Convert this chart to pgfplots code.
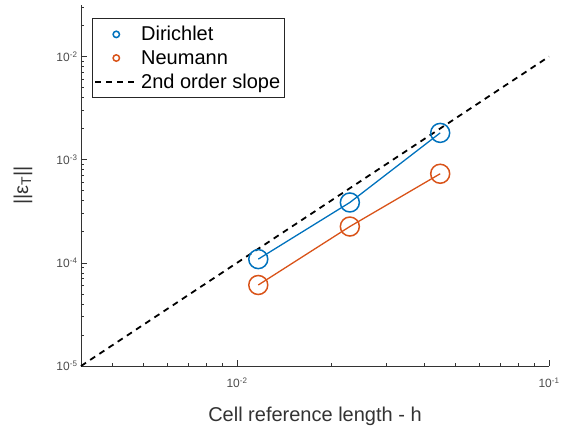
\documentclass[border=0pt]{standalone}
\usepackage{fontspec}
\setmainfont{Liberation Sans}
\usepackage{pgfplots}
\pgfplotsset{compat=1.18}
\definecolor{mblue}{rgb}{0,0.447,0.741}
\definecolor{morange}{rgb}{0.850,0.325,0.098}
\begin{document}
\begin{tikzpicture}[x=1pt,y=1pt]
\path[use as bounding box] (-81,-61) rectangle (481,366);
\begin{axis}[
 scale only axis, width=468pt, height=361pt,
 at={(0,0)}, anchor=south west,
 xmode=log, ymode=log,
 xmin=0.0031623, xmax=0.1, ymin=1e-5, ymax=0.031623,
 axis lines=left, axis line style={-, line width=0.9pt, black!80},
 tick align=inside, major tick length=6pt, minor tick length=3pt,
 every tick/.style={black!80, line width=0.7pt},
 xtick={0.01,0.1}, xticklabels={10\textsuperscript{-2},10\textsuperscript{-1}},
 minor xtick={0.004,0.005,0.006,0.007,0.008,0.009,0.02,0.03,0.04,0.05,0.06,0.07,0.08,0.09},
 ytick={1e-5,1e-4,1e-3,1e-2},
 yticklabels={10\textsuperscript{-5},10\textsuperscript{-4},10\textsuperscript{-3},10\textsuperscript{-2}},
 minor ytick={2e-5,3e-5,4e-5,5e-5,6e-5,7e-5,8e-5,9e-5,2e-4,3e-4,4e-4,5e-4,6e-4,7e-4,8e-4,9e-4,2e-3,3e-3,4e-3,5e-3,6e-3,7e-3,8e-3,9e-3,2e-2,3e-2},
 ticklabel style={font=\fontsize{12}{12}\selectfont, text=black!70},
 xticklabel style={yshift=-8pt},
 xlabel={Cell reference length - h},
 ylabel={||ε\textsubscript{T}||},
 label style={font=\fontsize{20}{20}\selectfont, text=black!80},
 xlabel style={at={(axis description cs:0.5,0)}, anchor=base, yshift=-55pt},
 ylabel style={at={(axis description cs:-0.124,0.5)}, anchor=center},
 legend style={at={(axis description cs:0.0235,0.964)}, anchor=north west,
   draw=black!85, line width=0.8pt, font=\fontsize{20}{22}\selectfont,
   inner xsep=2pt, inner ysep=6pt, row sep=4pt},
 legend cell align=left,
 clip=false,
]
\addplot[mblue, line width=1.3pt, mark=o, mark size=9.5pt, mark options={line width=1.5pt},
  legend image code/.code={\draw[mblue, line width=1.5pt] (21pt,0pt) circle (3.2pt);}]
  coordinates {(0.01170,1.087e-4) (0.0230,3.85e-4) (0.0448,1.82e-3)};
\addlegendentry{Dirichlet}
\addplot[morange, line width=1.3pt, mark=o, mark size=9.5pt, mark options={line width=1.5pt},
  legend image code/.code={\draw[morange, line width=1.5pt] (21pt,0pt) circle (3.2pt);}]
  coordinates {(0.01170,6.1e-5) (0.0230,2.25e-4) (0.0448,7.31e-4)};
\addlegendentry{Neumann}
\addplot[black, line width=1.8pt, dash pattern=on 6pt off 5pt,
  legend image code/.code={\draw[black, line width=1.8pt, dash pattern=on 6pt off 5pt] (0pt,0pt) -- (43pt,0pt);}]
  coordinates {(0.0031623,1e-5) (0.1,1e-2)};
\addlegendentry{2nd order slope}
\end{axis}
\end{tikzpicture}
\end{document}
